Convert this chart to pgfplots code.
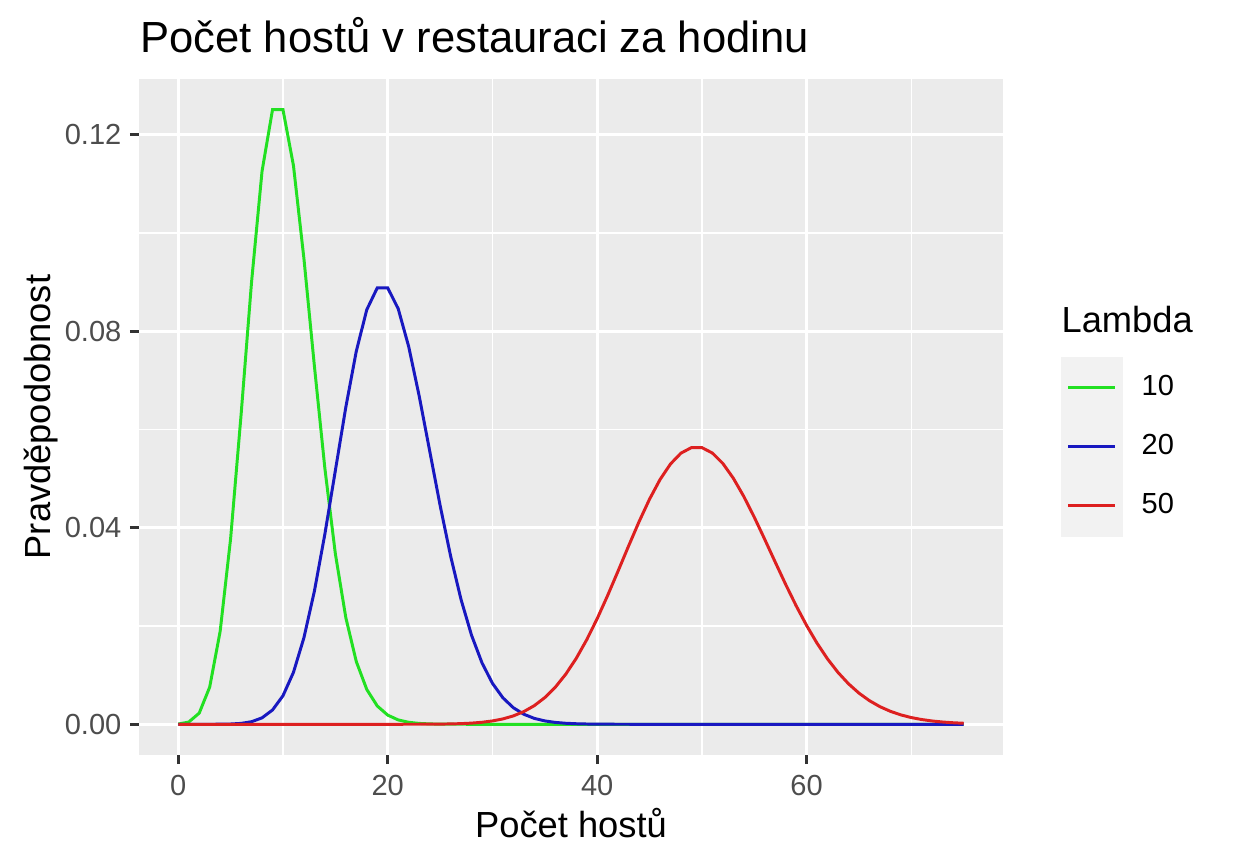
\documentclass[border=0pt]{standalone}
\usepackage{fontspec}
\setmainfont{Liberation Sans}
\usepackage{pgfplots}
\pgfplotsset{compat=1.18}
\usepackage{pgfplotstable}

\definecolor{panelbg}{HTML}{EBEBEB}
\definecolor{keybg}{HTML}{F2F2F2}
\definecolor{ticktext}{HTML}{4D4D4D}
\definecolor{tickline}{HTML}{333333}
\definecolor{c10}{HTML}{22E022}
\definecolor{c20}{HTML}{1818C0}
\definecolor{c50}{HTML}{DD2020}

% Poisson probabilities for lambda = 10, 20, 50
\pgfplotstableread{
k p10 p20 p50
0 4.540e-5 2.061e-9 0
1 4.540e-4 4.122e-8 0
2 2.270e-3 4.122e-7 0
3 7.567e-3 2.748e-6 0
4 1.8917e-2 1.374e-5 0
5 3.7833e-2 5.496e-5 0
6 6.3055e-2 1.832e-4 0
7 9.0079e-2 5.234e-4 0
8 0.112599 1.3087e-3 0
9 0.125110 2.9082e-3 0
10 0.125110 5.8163e-3 0
11 0.113736 1.05751e-2 0
12 0.094780 1.76252e-2 0
13 0.072908 2.71156e-2 0
14 0.052077 3.87366e-2 0
15 0.034718 5.16489e-2 0
16 0.021699 6.45611e-2 0
17 0.012764 7.59542e-2 0
18 0.007091 8.43935e-2 0
19 0.003732 8.88353e-2 0
20 0.001866 8.88353e-2 7.6e-7
21 0.000889 8.46051e-2 1.80e-6
22 0.000404 7.69137e-2 4.09e-6
23 0.000176 6.68815e-2 8.89e-6
24 0.0000731 5.57346e-2 1.853e-5
25 0.0000292 4.45877e-2 3.706e-5
26 0.0000112 3.42982e-2 7.127e-5
27 0.0000042 2.54061e-2 1.3198e-4
28 0.0000015 1.81472e-2 2.3567e-4
29 0.0000005 1.25153e-2 4.0633e-4
30 0 8.3435e-3 6.7722e-4
31 0 5.3829e-3 1.0923e-3
32 0 3.3643e-3 1.7067e-3
33 0 2.0390e-3 2.5859e-3
34 0 1.1994e-3 3.8028e-3
35 0 6.854e-4 5.4325e-3
36 0 3.808e-4 7.5451e-3
37 0 2.058e-4 1.0196e-2
38 0 1.083e-4 1.3416e-2
39 0 5.56e-5 1.7200e-2
40 0 2.78e-5 2.1500e-2
41 0 1.36e-5 2.6220e-2
42 0 6.5e-6 3.1214e-2
43 0 3.0e-6 3.6295e-2
44 0 1.4e-6 4.1244e-2
45 0 6e-7 4.5827e-2
46 0 0 4.9812e-2
47 0 0 5.2991e-2
48 0 0 5.5199e-2
49 0 0 5.6325e-2
50 0 0 5.6325e-2
51 0 0 5.5221e-2
52 0 0 5.3097e-2
53 0 0 5.0091e-2
54 0 0 4.6381e-2
55 0 0 4.2165e-2
56 0 0 3.7647e-2
57 0 0 3.3024e-2
58 0 0 2.8469e-2
59 0 0 2.4126e-2
60 0 0 2.0105e-2
61 0 0 1.6480e-2
62 0 0 1.3290e-2
63 0 0 1.0548e-2
64 0 0 8.2406e-3
65 0 0 6.3389e-3
66 0 0 4.8022e-3
67 0 0 3.5837e-3
68 0 0 2.6351e-3
69 0 0 1.9095e-3
70 0 0 1.3639e-3
71 0 0 9.605e-4
72 0 0 6.670e-4
73 0 0 4.569e-4
74 0 0 3.087e-4
75 0 0 2.058e-4
}\poisson

\begin{document}
\begin{tikzpicture}
\begin{axis}[
  scale only axis, width=261.82bp, height=204.85bp,
  xmin=-3.75, xmax=78.75, ymin=-0.006256, ymax=0.131366,
  clip mode=individual,
  axis line style={draw=none},
  axis background/.style={fill=panelbg},
  xtick={0,20,40,60}, ytick={0,0.04,0.08,0.12},
  yticklabels={0.00,0.04,0.08,0.12},
  minor xtick={10,30,50,70}, minor ytick={0.02,0.06,0.10},
  grid=both,
  major grid style={white, line width=0.9bp},
  minor grid style={white, line width=0.45bp},
  tick align=outside, xtick pos=bottom, ytick pos=left,
  major tick length=2.73bp, minor tick length=0pt,
  tick style={tickline, line width=0.9bp},
  /pgf/number format/assume math mode=true,
  ticklabel style={font=\fontsize{8.8bp}{10bp}\selectfont, text=ticktext},
  yticklabel style={inner xsep=2.42bp},
  every axis title shift=0pt,
  title={Počet hostů v restauraci za hodinu},
  title style={at={(axis description cs:0.001,1.0399)}, anchor=base west,
    inner sep=0pt, font=\fontsize{13.2bp}{15bp}\selectfont},
  xlabel={Počet hostů},
  xlabel style={at={(axis description cs:0.5,-0.1213)}, anchor=base,
    inner sep=0pt, font=\fontsize{11bp}{13bp}\selectfont},
  ylabel={Pravděpodobnost},
  ylabel style={at={(axis description cs:-0.1030,0.5)}, anchor=base,
    inner sep=0pt, font=\fontsize{11bp}{13bp}\selectfont},
  legend style={at={(axis description cs:1.0660,0.5902)}, anchor=north west,
    draw=none, fill=none, inner sep=0pt, row sep=-0.9bp, column sep=0pt,
    font=\fontsize{8.8bp}{10bp}\selectfont, nodes={inner sep=0pt},
    /tikz/every odd column/.append style={column sep=5.76bp}},
  legend cell align=left,
  legend image code/.code={
    \fill[keybg] (0bp,-8.94bp) rectangle (17.88bp,8.94bp);
    \draw[#1] (1.82bp,0bp) -- (16.06bp,0bp);},
  every axis plot/.append style={line width=0.9bp},
]
\addplot[c10] table[x=k, y=p10] {\poisson};
\addlegendentry{10}
\addplot[c20] table[x=k, y=p20] {\poisson};
\addlegendentry{20}
\addplot[c50] table[x=k, y=p50] {\poisson};
\addlegendentry{50}
\node[anchor=base west, inner sep=0pt, font=\fontsize{11bp}{13bp}\selectfont]
  at (axis description cs:1.0671,0.6243) {Lambda};
\end{axis}
\pgfresetboundingbox
\path[use as bounding box] (-42.12bp,-33.03bp) rectangle ++(373.94bp,261.82bp);
\end{tikzpicture}
\end{document}
